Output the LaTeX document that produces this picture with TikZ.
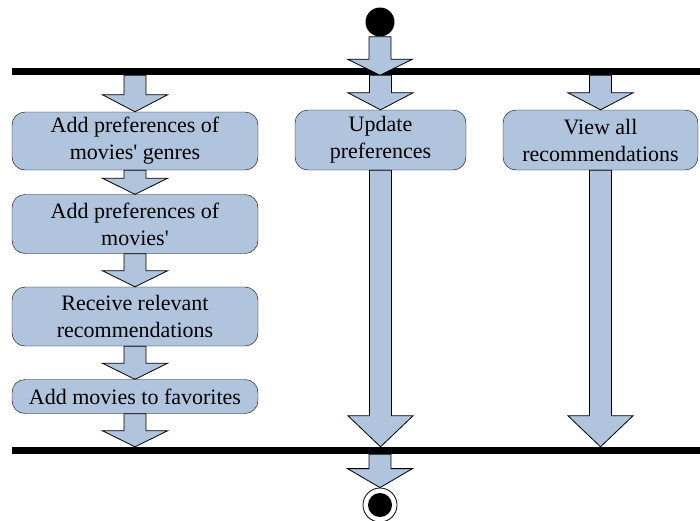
\documentclass[tikz,border=0pt]{standalone}
\usepackage{fontspec}
\setmainfont{Liberation Serif}
\usetikzlibrary{calc}

\definecolor{actblue}{RGB}{176,196,222}

\tikzset{
  activity/.style={draw, fill=actblue, rounded corners=13pt, align=center,
    inner sep=0pt, font=\fontsize{22}{27}\selectfont},
  syncbar/.style={fill=black, inner sep=0pt, minimum width=688pt, minimum height=7pt},
  flowarrow/.style={draw, fill=actblue, line width=0.8pt, line join=miter},
}

% fat vertical arrow from #2 down to #3, head length #1
\newcommand{\flow}[3][16pt]{
  \path[flowarrow] let \p1=(#2), \p2=(#3) in
    (\x1-\shaft,\y1) -- (\x1+\shaft,\y1) -- (\x1+\shaft,\y2+#1) -- (\x1+\head,\y2+#1)
    -- (\x1,\y2) -- (\x1-\head,\y2+#1) -- (\x1-\shaft,\y2+#1) -- cycle;
}

\begin{document}
\begin{tikzpicture}[x=1pt, y=-1pt]
\useasboundingbox (0,0) rectangle (700,520);

\def \shaft {11pt}
\def \head {32.5pt}

\node[circle, fill=black, minimum size=29pt, inner sep=0pt] (start) at (380,22) {};
\node[syncbar] (fork) at (356,71.5) {};
\node[syncbar] (join) at (356,450.5) {};

\node[activity, minimum width=246pt, minimum height=58pt] (a1) at (135,141)
  {Add preferences of\\movies\textquotesingle{} genres};
\node[activity, minimum width=246pt, minimum height=59pt] (a2) at (135,224)
  {Add preferences of\\movies\textquotesingle};
\node[activity, minimum width=246pt, minimum height=59pt] (a3) at (135,316.5)
  {Receive relevant\\recommendations};
\node[activity, minimum width=246pt, minimum height=34pt] (a4) at (135,396.5)
  {Add movies to favorites};
\node[activity, minimum width=171pt, minimum height=60pt] (upd) at (380.5,140)
  {Update\\preferences};
\node[activity, minimum width=195pt, minimum height=60pt] (view) at (600.5,140)
  {View all\\recommendations};

\node[circle, draw, line width=0.8pt, fill=white, minimum size=34pt, inner sep=0pt] (end) at (380,505) {};
\fill[black] (end) circle (12pt);

\flow{start.south}{start.south |- fork.south}
\foreach \act in {a1, upd, view}
  {\flow[17pt]{\act.north |- fork.south}{\act.north}}
\foreach \src/\dst in {a1/a2, a2/a3, a3/a4}
  {\flow{\src.south}{\dst.north}}
\flow{a4.south}{a4.south |- join.north}
\foreach \act in {upd, view}
  {\flow[31pt]{\act.south}{\act.south |- join.north}}
\flow[19pt]{end.north |- join.south}{end.north}

\end{tikzpicture}
\end{document}
